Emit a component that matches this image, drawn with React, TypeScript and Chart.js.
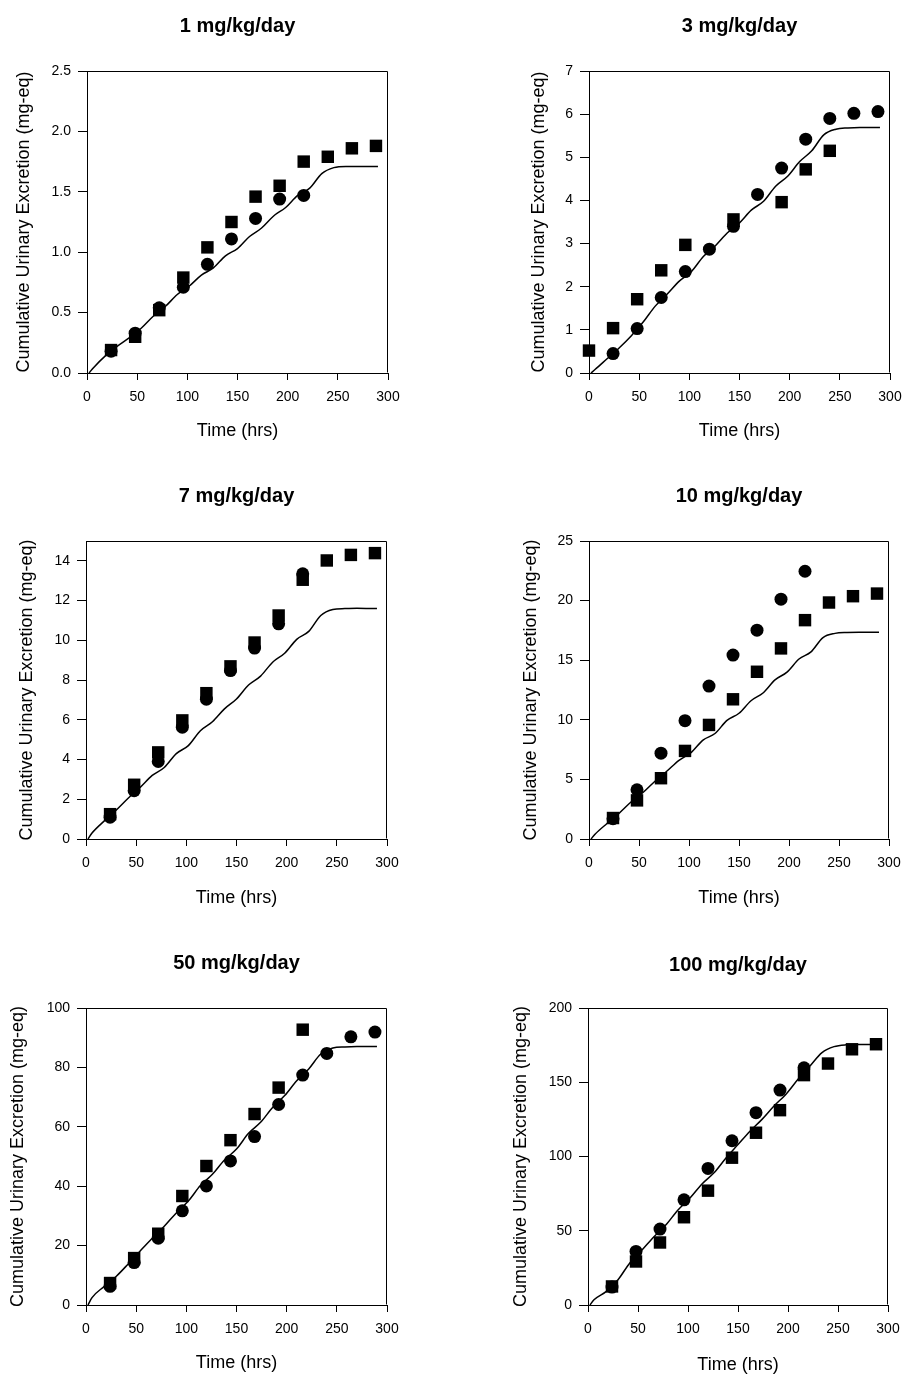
import { useEffect, useRef } from "react";
import { Chart, registerables } from "chart.js";

Chart.register(...registerables);

const FONT = "'Liberation Sans', Arial, Helvetica, sans-serif";
Chart.defaults.font.family = FONT;
Chart.defaults.color = "#000";

// ---------- data ----------
const obsTimes = [24, 48, 72, 96, 120, 144, 168, 192, 216, 240, 264, 288];
const modelTimes = [2, 6, 18, 30, 42, 54, 66, 78, 90, 102, 114, 126, 138, 150, 162, 174, 186, 198, 210, 222, 234, 246, 258, 270, 290];

const titles = ["1 mg/kg/day", "3 mg/kg/day", "7 mg/kg/day", "10 mg/kg/day", "50 mg/kg/day", "100 mg/kg/day"];
const xTitle = "Time (hrs)";
const yTitle = "Cumulative Urinary Excretion (mg-eq)";

// 1 mg/kg/day
const p1Squares = [0.19, 0.30, 0.52, 0.79, 1.04, 1.25, 1.46, 1.55, 1.75, 1.79, 1.86, 1.88];
const p1Circles = [0.18, 0.33, 0.54, 0.71, 0.90, 1.11, 1.28, 1.44, 1.47];
const p1Model = [0, 0.04, 0.14, 0.22, 0.29, 0.37, 0.47, 0.55, 0.65, 0.72, 0.81, 0.87, 0.97, 1.03, 1.13, 1.20, 1.30, 1.37, 1.47, 1.53, 1.65, 1.70, 1.71, 1.71, 1.71];

// 3 mg/kg/day
const p2SquareTimes = [0, 24, 48, 72, 96, 144, 192, 216, 240];
const p2Squares = [0.52, 1.04, 1.71, 2.38, 2.97, 3.56, 3.96, 4.72, 5.15];
const p2Circles = [0.45, 1.03, 1.75, 2.35, 2.87, 3.40, 4.14, 4.75, 5.42, 5.90, 6.02, 6.06];
const p2Model = [0, 0.08, 0.33, 0.58, 0.86, 1.18, 1.55, 1.83, 2.13, 2.35, 2.70, 2.95, 3.25, 3.48, 3.78, 3.98, 4.33, 4.56, 4.90, 5.15, 5.52, 5.65, 5.68, 5.69, 5.69];

// 7 mg/kg/day
const p3Squares = [1.25, 2.73, 4.36, 5.97, 7.34, 8.69, 9.89, 11.25, 13.05, 14.02, 14.30, 14.39];
const p3Circles = [1.10, 2.43, 3.90, 5.63, 7.04, 8.48, 9.61, 10.83, 13.35];
const p3Model = [0, 0.3, 0.9, 1.45, 2.05, 2.6, 3.2, 3.6, 4.3, 4.7, 5.45, 5.9, 6.55, 7.05, 7.75, 8.2, 8.9, 9.35, 10.05, 10.45, 11.25, 11.55, 11.6, 11.62, 11.6];

// 10 mg/kg/day
const p4Squares = [1.76, 3.24, 5.1, 7.39, 9.57, 11.72, 14.03, 15.99, 18.36, 19.84, 20.37, 20.59];
const p4Circles = [1.7, 4.13, 7.2, 9.93, 12.83, 15.43, 17.52, 20.12, 22.46];
const p4Model = [0, 0.4, 1.3, 2.15, 3.1, 3.9, 4.85, 5.7, 6.6, 7.25, 8.3, 8.85, 9.95, 10.55, 11.6, 12.25, 13.35, 14.0, 15.1, 15.7, 16.9, 17.25, 17.33, 17.35, 17.35];

// 50 mg/kg/day
const p5Squares = [7.4, 15.8, 24.0, 36.7, 46.8, 55.5, 64.3, 73.2, 92.7];
const p5Circles = [6.3, 14.3, 22.5, 31.7, 40.1, 48.5, 56.7, 67.5, 77.4, 84.7, 90.3, 91.9];
const p5Model = [0, 2.5, 6.2, 9.6, 13.8, 18.2, 22.5, 26.5, 31.0, 35.0, 40.2, 44.0, 48.8, 52.5, 57.8, 61.5, 66.5, 70.5, 75.5, 79.5, 84.5, 86.5, 86.9, 87, 87];

// 100 mg/kg/day
const p6Squares = [12.5, 29.3, 42.1, 59.1, 77.0, 99.2, 116.0, 131.2, 154.8, 162.6, 172.2, 175.6];
const p6Circles = [12.1, 36.1, 51.1, 70.8, 92.0, 110.6, 129.5, 144.7, 159.7];
const p6Model = [0, 3.5, 9, 17, 28.5, 37, 46, 54, 64, 72, 81.5, 89, 99, 108, 117, 125, 134, 142, 152, 161, 170, 174, 175.2, 175.4, 175.4];

// y-axis ranges
const yMax = [2.5, 7, 15, 25, 100, 200];
const yStep = [0.5, 1, 2, 5, 20, 50];
const xMax = 300;
const xStep = 50;

const zip = (xs: number[], ys: number[]) => ys.map((y, i) => ({ x: xs[i], y }));

const panelData = [
  { sq: zip(obsTimes, p1Squares), ci: zip(obsTimes, p1Circles), model: zip(modelTimes, p1Model) },
  { sq: zip(p2SquareTimes, p2Squares), ci: zip(obsTimes, p2Circles), model: zip(modelTimes, p2Model) },
  { sq: zip(obsTimes, p3Squares), ci: zip(obsTimes, p3Circles), model: zip(modelTimes, p3Model) },
  { sq: zip(obsTimes, p4Squares), ci: zip(obsTimes, p4Circles), model: zip(modelTimes, p4Model) },
  { sq: zip(obsTimes, p5Squares), ci: zip(obsTimes, p5Circles), model: zip(modelTimes, p5Model) },
  { sq: zip(obsTimes, p6Squares), ci: zip(obsTimes, p6Circles), model: zip(modelTimes, p6Model) },
];

// ---------- layout (page pixels) ----------
const geom = [
  { cx: 0, cy: 0, L: 87, R: 388, T: 71, B: 373, tc: 26, yoff: 63, xo: 58 },
  { cx: 452, cy: 0, L: 589, R: 890, T: 71, B: 373, tc: 26, yoff: 50, xo: 58 },
  { cx: 0, cy: 470, L: 86, R: 387, T: 541, B: 839, tc: 496, yoff: 59, xo: 59 },
  { cx: 452, cy: 470, L: 589, R: 889, T: 541, B: 839, tc: 496, yoff: 58, xo: 59 },
  { cx: 0, cy: 940, L: 86, R: 387, T: 1008, B: 1305, tc: 963, yoff: 68, xo: 58 },
  { cx: 452, cy: 940, L: 588, R: 888, T: 1008, B: 1305, tc: 965, yoff: 67, xo: 60 },
];
const CW = 452;
const CH = 470;

const boxPlugin = {
  id: "plotBox",
  beforeDatasetsDraw(chart: any) {
    const { ctx, chartArea: a } = chart;
    ctx.save();
    ctx.strokeStyle = "#000";
    ctx.lineWidth = 1;
    const l = Math.round(a.left) + 0.5;
    const t = Math.round(a.top) + 0.5;
    const r = Math.round(a.right) - 0.5;
    const b = Math.round(a.bottom) - 0.5;
    ctx.beginPath();
    ctx.moveTo(l, t);
    ctx.lineTo(r, t);
    ctx.lineTo(r, b);
    ctx.stroke();
    ctx.restore();
  },
};

function Panel({ idx }: { idx: number }) {
  const ref = useRef<HTMLCanvasElement>(null);
  useEffect(() => {
    const g = geom[idx];
    const d = panelData[idx];
    const tRel = g.T - g.cy;
    const bRel = g.B - g.cy;
    const tcRel = g.tc - g.cy;
    const titleLH = 24; // 20px * 1.2
    const axisLH = 21.6; // 18px * 1.2
    const yWidth = g.yoff + 2 + axisLH / 2;
    const hx = g.xo + 4 + axisLH / 2;
    const padLeft = g.L - g.cx - yWidth;
    const padRight = g.cx + CW - g.R;
    const padBottom = CH - bRel - hx;

    const chart = new Chart(ref.current!, {
      type: "scatter",
      data: {
        datasets: [
          {
            label: "model",
            data: d.model,
            showLine: true,
            pointRadius: 0,
            borderColor: "#000",
            borderWidth: 1.5,
            cubicInterpolationMode: "monotone",
            fill: false,
          } as any,
          {
            label: "squares",
            data: d.sq,
            pointStyle: "rect",
            pointRadius: 8.8,
            pointBackgroundColor: "#000",
            pointBorderColor: "#000",
            pointBorderWidth: 0,
            clip: false,
          } as any,
          {
            label: "circles",
            data: d.ci,
            pointStyle: "circle",
            pointRadius: 6.5,
            pointBackgroundColor: "#000",
            pointBorderColor: "#000",
            pointBorderWidth: 0,
            clip: false,
          } as any,
        ],
      },
      options: {
        responsive: false,
        animation: false,
        events: [],
        layout: { padding: { left: padLeft, right: padRight, top: 0, bottom: padBottom } },
        plugins: {
          legend: { display: false },
          tooltip: { enabled: false },
          title: {
            display: true,
            text: titles[idx],
            color: "#000",
            fullSize: false,
            font: { family: FONT, size: 20, weight: "bold" },
            padding: { top: tcRel - titleLH / 2, bottom: tRel - tcRel - titleLH / 2 },
          },
        },
        scales: {
          x: {
            type: "linear",
            min: 0,
            max: xMax,
            ticks: { stepSize: xStep, color: "#000", font: { family: FONT, size: 14 }, padding: 9, maxRotation: 0, autoSkip: false },
            grid: { drawOnChartArea: false, drawTicks: true, tickLength: 7, color: "#000", lineWidth: 1 },
            border: { display: true, color: "#000", width: 1 },
            title: { display: true, text: xTitle, color: "#000", font: { family: FONT, size: 18 }, padding: { top: 0, bottom: 4 } },
            afterFit: (s: any) => {
              s.height = hx;
              s.paddingLeft = 0;
              s.paddingRight = 0;
            },
          },
          y: {
            type: "linear",
            min: 0,
            max: yMax[idx],
            ticks: {
              stepSize: yStep[idx],
              includeBounds: false,
              color: "#000",
              font: { family: FONT, size: 14 },
              padding: 7,
              callback: (v: any) => (idx === 0 ? Number(v).toFixed(1) : String(v)),
            },
            grid: { drawOnChartArea: false, drawTicks: true, tickLength: 9, color: "#000", lineWidth: 1 },
            border: { display: true, color: "#000", width: 1 },
            title: { display: true, text: yTitle, color: "#000", font: { family: FONT, size: 18 }, padding: { top: 2, bottom: 0 } },
            afterFit: (s: any) => {
              s.width = yWidth;
              s.paddingTop = 0;
              s.paddingBottom = 0;
            },
          },
        },
      } as any,
      plugins: [boxPlugin],
    });
    return () => chart.destroy();
  }, [idx]);
  const g = geom[idx];
  return (
    <canvas
      ref={ref}
      width={CW}
      height={CH}
      style={{ position: "absolute", left: g.cx, top: g.cy, width: CW, height: CH, display: "block" }}
    />
  );
}

export default function App() {
  return (
    <div
      style={{
        position: "absolute",
        left: 0,
        top: 0,
        width: 904,
        height: 1375,
        overflow: "hidden",
        background: "#fff",
      }}
    >
      {titles.map((_, i) => (
        <Panel key={i} idx={i} />
      ))}
    </div>
  );
}
